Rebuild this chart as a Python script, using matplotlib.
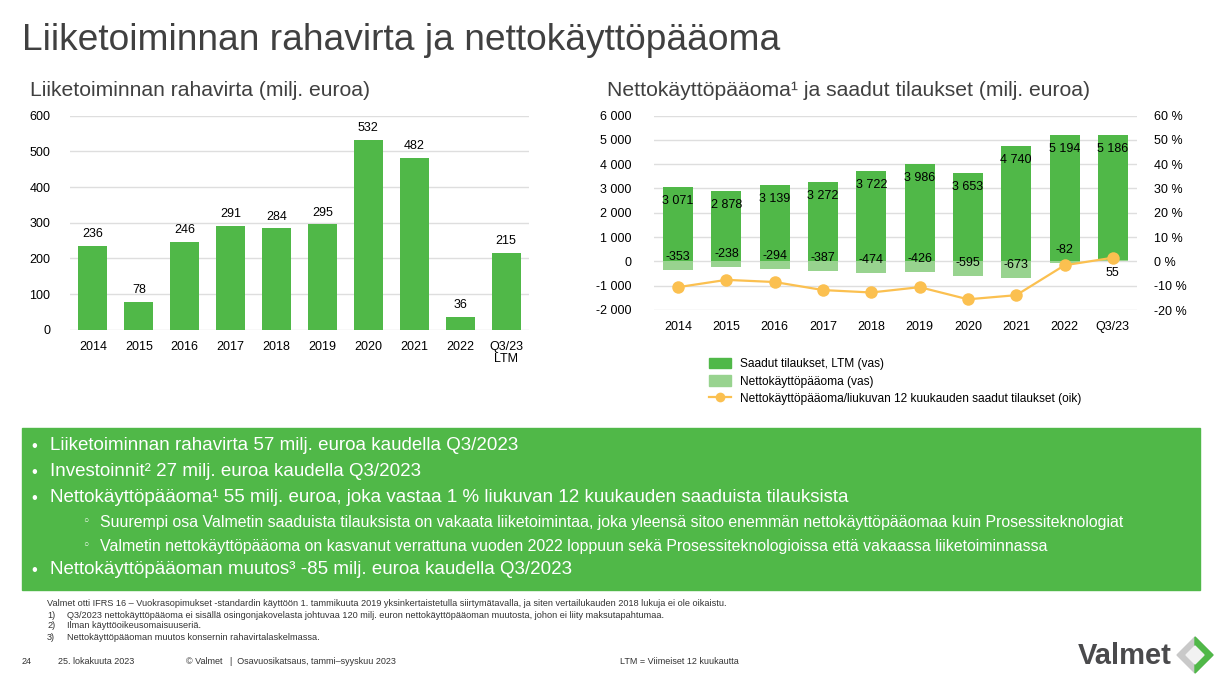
import numpy as np
import matplotlib
matplotlib.use("Agg")
import matplotlib.pyplot as plt
from matplotlib.patches import Rectangle, Polygon
from matplotlib.lines import Line2D
from matplotlib.ticker import FuncFormatter

plt.rcParams['font.family'] = ['Liberation Sans', 'DejaVu Sans']

# data
years = ['2014', '2015', '2016', '2017', '2018', '2019', '2020', '2021', '2022', 'Q3/23\nLTM']
years_r = ['2014', '2015', '2016', '2017', '2018', '2019', '2020', '2021', '2022', 'Q3/23']
cash_flow = [236, 78, 246, 291, 284, 295, 532, 482, 36, 215]
orders = [3071, 2878, 3139, 3272, 3722, 3986, 3653, 4740, 5194, 5186]
nwc = [-353, -238, -294, -387, -474, -426, -595, -673, -82, 55]
nwc_pct = [-10.6, -7.6, -8.5, -11.8, -12.8, -10.6, -15.6, -13.9, -1.6, 1.5]

GREEN = '#50b848'
LIGHT = '#98d38f'
ORANGE = '#fbc050'
GRID = '#dedede'
DARK = '#404040'

W, H = 1231, 687
fig = plt.figure(figsize=(W / 100, H / 100), dpi=100)


def fx(x):
    return x / W


def fy(y):
    return 1 - y / H


def thousands(v, pos=None):
    s = '{:,.0f}'.format(abs(v)).replace(',', ' ')
    return ('-' if v < 0 else '') + s


# titles
fig.text(fx(22), fy(40), 'Liiketoiminnan rahavirta ja nettokäyttöpääoma',
         fontsize=26.7, color=DARK, va='center')
fig.text(fx(30), fy(90), 'Liiketoiminnan rahavirta (milj. euroa)',
         fontsize=15.2, color=DARK, va='center')
fig.text(fx(607), fy(90), 'Nettokäyttöpääoma¹ ja saadut tilaukset (milj. euroa)',
         fontsize=15.2, color=DARK, va='center')

# left chart
ax1 = fig.add_axes([fx(70), fy(329.7), fx(459), (329.7 - 115.7) / H])
x = np.arange(len(years))
bars = ax1.bar(x, cash_flow, width=0.63, color=GREEN, zorder=2)
ax1.bar_label(bars, padding=4, fontsize=9)
ax1.set_ylim(0, 600)
ax1.set_xlim(-0.5, len(years) - 0.5)
ax1.set_yticks(range(0, 601, 100))
ax1.set_xticks(x)
ax1.set_xticklabels(years, linespacing=1.0)
ax1.yaxis.grid(True, color=GRID, lw=1, zorder=0)
for s in ax1.spines.values():
    s.set_visible(False)
ax1.tick_params(length=0, labelsize=9)
ax1.tick_params(axis='y', pad=14)
ax1.tick_params(axis='x', pad=8)

# right chart
ax2 = fig.add_axes([fx(654), fy(310), fx(483), (310 - 115.5) / H])
xr = np.arange(len(years_r))
ax2.bar(xr, orders, width=0.62, color=GREEN, zorder=2)
ax2.bar(xr, nwc, width=0.62, color=LIGHT, zorder=3)
ax2.set_ylim(-2000, 6000)
ax2.set_xlim(-0.5, len(years_r) - 0.5)
ax2.set_yticks(range(-2000, 6001, 1000))
ax2.yaxis.set_major_formatter(FuncFormatter(thousands))
ax2.set_xticks(xr)
ax2.set_xticklabels(years_r)
ax2.yaxis.grid(True, color=GRID, lw=1, zorder=0)
for s in ax2.spines.values():
    s.set_visible(False)
ax2.tick_params(length=0, labelsize=9)
ax2.tick_params(axis='y', pad=16)
ax2.tick_params(axis='x', pad=8)

for i in range(len(xr)):
    ax2.annotate(thousands(orders[i]), (xr[i], orders[i]), xytext=(0, -14),
                 textcoords='offset pixels', ha='center', va='center',
                 fontsize=9, zorder=5)
    off = 13 if nwc[i] < 0 else -13
    ax2.annotate(thousands(nwc[i]), (xr[i], nwc[i]), xytext=(0, off),
                 textcoords='offset pixels', ha='center', va='center',
                 fontsize=9, zorder=5)

ax3 = ax2.twinx()
ax3.plot(xr, nwc_pct, color=ORANGE, lw=1.6, marker='o', markersize=9,
         markeredgewidth=0, zorder=4)
ax3.set_ylim(-20, 60)
ax3.set_yticks(range(-20, 61, 10))
ax3.yaxis.set_major_formatter(FuncFormatter(lambda v, p: '{:.0f} %'.format(v)))
for s in ax3.spines.values():
    s.set_visible(False)
ax3.tick_params(length=0, labelsize=9, pad=12)

# legend
handles = [Rectangle((0, 0), 1, 1, color=GREEN),
           Rectangle((0, 0), 1, 1, color=LIGHT),
           Line2D([], [], color=ORANGE, lw=1.6, marker='o', markersize=7,
                  markeredgewidth=0)]
labels = ['Saadut tilaukset, LTM (vas)', 'Nettokäyttöpääoma (vas)',
          'Nettokäyttöpääoma/liukuvan 12 kuukauden saadut tilaukset (oik)']
fig.legend(handles, labels, loc='upper left', bbox_to_anchor=(fx(704), fy(353)),
           frameon=False, fontsize=8.6, handlelength=1.9, handleheight=1.0,
           labelspacing=0.42, handletextpad=0.75, borderaxespad=0)

# green box
fig.patches.append(Rectangle((fx(22), fy(590)), fx(1178), (590 - 428) / H,
                             transform=fig.transFigure, color=GREEN, zorder=0))
main_lines = [
    (446, 'Liiketoiminnan rahavirta 57 milj. euroa kaudella Q3/2023'),
    (472, 'Investoinnit² 27 milj. euroa kaudella Q3/2023'),
    (498, 'Nettokäyttöpääoma¹ 55 milj. euroa, joka vastaa 1 % liukuvan 12 kuukauden saaduista tilauksista'),
    (570, 'Nettokäyttöpääoman muutos³ -85 milj. euroa kaudella Q3/2023'),
]
sub_lines = [
    (522, 'Suurempi osa Valmetin saaduista tilauksista on vakaata liiketoimintaa, joka yleensä sitoo enemmän nettokäyttöpääomaa kuin Prosessiteknologiat'),
    (546, 'Valmetin nettokäyttöpääoma on kasvanut verrattuna vuoden 2022 loppuun sekä Prosessiteknologioissa että vakaassa liiketoiminnassa'),
]
for y, t in main_lines:
    fig.text(fx(31), fy(y), '•', color='white', fontsize=12, va='center')
    fig.text(fx(50), fy(y), t, color='white', fontsize=13.5, va='center')
for y, t in sub_lines:
    fig.text(fx(82), fy(y), '◦', color='white', fontsize=9, va='center',
             family=['DejaVu Sans'])
    fig.text(fx(100), fy(y), t, color='white', fontsize=11.4, va='center')

# footnotes
fig.text(fx(47), fy(604), 'Valmet otti IFRS 16 – Vuokrasopimukset -standardin käyttöön 1. tammikuuta 2019 '
         'yksinkertaistetulla siirtymätavalla, ja siten vertailukauden 2018 lukuja ei ole oikaistu.',
         fontsize=6.6, color='#333333', va='center')
notes = ['Q3/2023 nettokäyttöpääoma ei sisällä osingonjakovelasta johtuvaa 120 milj. euron '
         'nettokäyttöpääoman muutosta, johon ei liity maksutapahtumaa.',
         'Ilman käyttöoikeusomaisuuseriä.',
         'Nettokäyttöpääoman muutos konsernin rahavirtalaskelmassa.']
for i, t in enumerate(notes):
    y = 615 + i * 11
    fig.text(fx(47), fy(y), '{})'.format(i + 1), fontsize=6.6, color='#333333', va='center')
    fig.text(fx(67), fy(y), t, fontsize=6.6, color='#333333', va='center')

# footer
for xx, t in [(22, '24'), (58, '25. lokakuuta 2023'),
              (186, '© Valmet   |  Osavuosikatsaus, tammi–syyskuu 2023'),
              (620, 'LTM = Viimeiset 12 kuukautta')]:
    fig.text(fx(xx), fy(662), t, fontsize=6.5, color='#333333', va='center')

# logo
fig.text(fx(1078), fy(656), 'Valmet', fontsize=21, fontweight='bold',
         color='#4a4a4c', va='center')
cx, cy = 1195, 655
outer = [(1177, cy), (cx, 637), (1213, cy), (cx, 673)]
fig.patches.append(Polygon([(fx(a), fy(b)) for a, b in outer], closed=True,
                           transform=fig.transFigure, color='#c9c9c9'))
green_part = [(cx, 637), (1213, cy), (cx, 673), (cx, 664), (1204, cy), (cx, 646)]
fig.patches.append(Polygon([(fx(a), fy(b)) for a, b in green_part], closed=True,
                           transform=fig.transFigure, color=GREEN))
inner = [(1186, cy), (cx, 646), (1204, cy), (cx, 664)]
fig.patches.append(Polygon([(fx(a), fy(b)) for a, b in inner], closed=True,
                           transform=fig.transFigure, color='#f2f2f2'))

fig.savefig('out.png', dpi=100)
